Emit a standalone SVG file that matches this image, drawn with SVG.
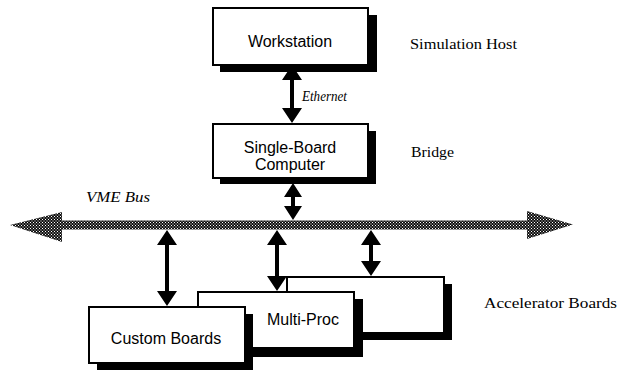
<svg xmlns="http://www.w3.org/2000/svg" width="620" height="373" viewBox="0 0 620 373">
  <defs>
    <!-- halftone stipple for the bus -->
    <pattern id="stipple" width="3" height="3" patternUnits="userSpaceOnUse">
      <rect width="3" height="3" fill="#111"/>
      <rect x="0" y="0" width="1" height="1" fill="#ffffff"/>
      <rect x="1.5" y="1.5" width="1" height="1" fill="#ffffff"/>
    </pattern>
  </defs>
  <style>
    .box { fill: #fff; stroke: #000; stroke-width: 2; }
    .shadow { fill: #000; }
    .label { font-family: "Liberation Sans", Arial, sans-serif; font-size: 16px; fill: #000; text-anchor: middle; }
    .side { font-family: "Liberation Serif", "Times New Roman", serif; font-size: 14px; fill: #000; }
    .ital { font-family: "Liberation Serif", "Times New Roman", serif; font-size: 14px; font-style: italic; fill: #000; }
    .link { fill: #000; stroke: none; }
  </style>

  <rect width="620" height="373" fill="#fff"/>

  <!-- VME bus: stippled double-ended arrow -->
  <g id="vme-bus">
    <path d="M10,225 L62,212 L62,220.5 L527,220.5 L527,211 L573,224.5 L527,239 L527,229.5 L62,229.5 L62,242 Z" fill="url(#stipple)"/>
    <text class="ital" x="86" y="202" textLength="64" lengthAdjust="spacingAndGlyphs">VME Bus</text>
  </g>

  <g id="workstation">
    <rect class="shadow" x="220" y="15" width="157" height="57"/>
    <rect class="box" x="213" y="8" width="155" height="57"/>
    <text class="label" x="290" y="47">Workstation</text>
  </g>

  <g id="single-board-computer">
    <rect class="shadow" x="220" y="131" width="156" height="53"/>
    <rect class="box" x="213" y="124" width="155" height="54"/>
    <text class="label" x="290" y="153">Single-Board</text>
    <text class="label" x="290" y="170">Computer</text>
  </g>

  <g id="accelerator-back">
    <rect class="shadow" x="295" y="284" width="157" height="56"/>
    <rect class="box" x="287" y="277" width="157" height="56"/>
  </g>

  <g id="multi-proc">
    <rect class="shadow" x="206" y="299" width="157" height="58"/>
    <rect class="box" x="198" y="292" width="156" height="56"/>
    <text class="label" x="303" y="325">Multi-Proc</text>
  </g>

  <g id="custom-boards">
    <rect class="shadow" x="97" y="314" width="156" height="56"/>
    <rect class="box" x="89" y="307" width="156" height="56"/>
    <text class="label" x="166" y="344">Custom Boards</text>
  </g>

  <g id="labels">
    <text class="side" x="410" y="49" textLength="107" lengthAdjust="spacingAndGlyphs">Simulation Host</text>
    <text class="side" x="411" y="157" textLength="43" lengthAdjust="spacingAndGlyphs">Bridge</text>
    <text class="side" x="484" y="308" textLength="133" lengthAdjust="spacingAndGlyphs">Accelerator Boards</text>
  </g>

  <!-- double-headed connectors: head 20 wide x 15 long, shaft 4 wide -->
  <g id="connectors">
    <path class="link" d="M292,65 L302,80 L294,80 L294,108 L302,108 L292,123 L282,108 L290,108 L290,80 L282,80 Z"/>
    <text class="ital" x="302" y="101" textLength="45" lengthAdjust="spacingAndGlyphs">Ethernet</text>
    <path class="link" d="M293,183 L302,197 L295,197 L295,206 L302,206 L293,220 L284,206 L291,206 L291,197 L284,197 Z"/>
    <path class="link" d="M167,230 L177,245 L169,245 L169,291 L177,291 L167,306 L157,291 L165,291 L165,245 L157,245 Z"/>
    <path class="link" d="M277,230 L287,245 L279,245 L279,276 L287,276 L277,291 L267,276 L275,276 L275,245 L267,245 Z"/>
    <path class="link" d="M371,230 L381,245 L373,245 L373,261 L381,261 L371,276 L361,261 L369,261 L369,245 L361,245 Z"/>
  </g>
</svg>
